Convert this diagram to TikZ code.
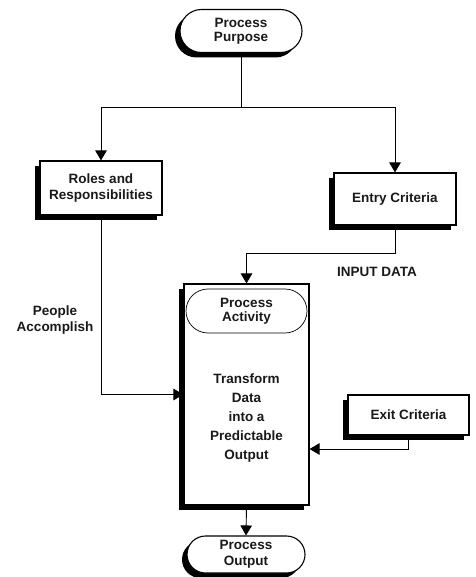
\documentclass[tikz,border=0pt]{standalone}
\usepackage{fontspec}
\setmainfont{Liberation Sans}
\usetikzlibrary{shapes.misc,shadows,arrows.meta}

\begin{document}
\begin{tikzpicture}[x=1pt, y=-1pt,
  every node/.style={font=\bfseries\fontsize{13.5}{16}\selectfont, align=center, text=black!90},
  box/.style={draw, line width=1.1pt, fill=white, minimum width=122pt, inner sep=0pt,
    drop shadow={shadow xshift=-5pt, shadow yshift=-5pt, fill=black, opacity=1}},
  term/.style={box, rounded rectangle},
  conn/.style={line width=0.9pt, -{Triangle[length=10pt, width=11.5pt]}}]
\useasboundingbox (0,0) rectangle (475,577);

\node[term, minimum height=43pt] (purpose) at (241,31) {Process\\[-2pt]Purpose};
\node[box, minimum height=54pt] (roles) at (101,188) {Roles and\\Responsibilities};
\node[box, minimum height=52pt] (entry) at (395,199) {Entry Criteria};
\node[box, minimum width=125pt, minimum height=221pt] (act) at (246.5,394.5) {};
\node[draw, rounded rectangle, line width=0.7pt, minimum width=121pt, minimum height=44pt,
  inner sep=0pt] (actin) at (246.5,311) {Process\\[-2pt]Activity};
\node[font=\bfseries\fontsize{13.5}{19}\selectfont] (transform) at (246.5,418)
  {Transform\\Data\\into a\\Predictable\\Output};
\node[box, minimum width=121pt, minimum height=40pt] (exit) at (408.5,415) {Exit Criteria};
\node[term, minimum width=118pt, minimum height=37pt] (output) at (246,554.5) {Process\\Output};

\node (people) at (55,320) {People\\Accomplish};
\node (input) at (377,272) {INPUT DATA};

\coordinate (split) at (purpose.south |- 0,107);
\draw[line width=0.9pt] (purpose.south) -- (split);
\draw[conn] (split) -| (roles.north);
\draw[conn] (split) -| (entry.north);
\draw[conn] (roles.south) |- (act.west);
\draw[conn] (entry.south) -- ++(0,28) -| (act.north);
\draw[conn] (exit.south) |- ([yshift=-54.5pt]act.east);
\draw[conn] (act.south) -- (output.north);
\end{tikzpicture}
\end{document}
